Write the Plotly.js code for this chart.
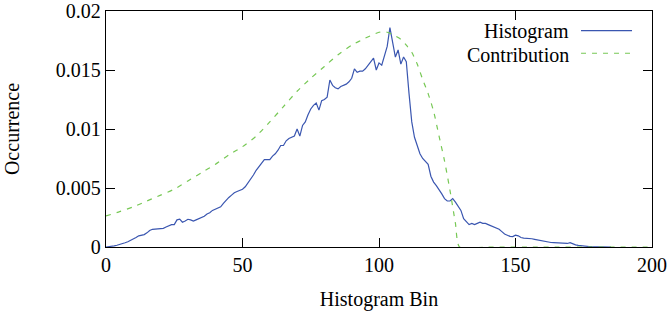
<!DOCTYPE html>
<html>
<head>
<meta charset="utf-8">
<script src="https://cdn.plot.ly/plotly-3.0.1.min.js"></script>
<style>html,body{margin:0;padding:0;background:#fff;}#chart{width:670px;height:322px;}</style>
</head>
<body>
<div id="chart"></div>
<script>
// Histogram bins 0..185
const histBins = [];
for (let i = 0; i <= 185; i++) histBins.push(i);
const histValues = [
  0, 0.00002, 0.00005, 0.0001, 0.00015, 0.0002, 0.00028, 0.00036, 0.00045, 0.00055,
  0.0007, 0.0008, 0.00095, 0.001, 0.00105, 0.0012, 0.0014, 0.0015, 0.00152, 0.0015,
  0.00155, 0.00158, 0.0017, 0.0018, 0.0019, 0.0019, 0.0023, 0.00236, 0.0021, 0.0022,
  0.00235, 0.0023, 0.0022, 0.0023, 0.0024, 0.0025, 0.0026, 0.0028, 0.0029, 0.0031,
  0.0032, 0.0033, 0.0034, 0.0037, 0.004, 0.0042, 0.0044, 0.0046, 0.0047, 0.0048,
  0.0049, 0.0051, 0.0054, 0.0057, 0.0061, 0.0065, 0.0068, 0.0071, 0.0074, 0.0074,
  0.0074, 0.0077, 0.0079, 0.0082, 0.0086, 0.0086, 0.009, 0.0092, 0.0093, 0.0094,
  0.0100, 0.0094, 0.0103, 0.0106, 0.0112, 0.0117, 0.0120, 0.0122, 0.0116, 0.0124,
  0.0125, 0.0127, 0.01415, 0.0137, 0.0135, 0.0134, 0.0136, 0.0137, 0.0138, 0.0140,
  0.0143, 0.0151, 0.0148, 0.0149, 0.0149, 0.0151, 0.0154, 0.0157, 0.0160, 0.0150,
  0.0156, 0.0154, 0.0163, 0.0170, 0.0186, 0.0174, 0.0161, 0.0167, 0.0155, 0.0161,
  0.0157, 0.0130, 0.0106, 0.0093, 0.0085, 0.0079, 0.0075, 0.0072, 0.0070, 0.0060,
  0.0055, 0.0052, 0.0049, 0.0045, 0.0041, 0.0039, 0.0039, 0.0041, 0.0038, 0.0034,
  0.0031, 0.0024, 0.0021, 0.0019, 0.0020, 0.0019, 0.0020, 0.0021, 0.0020, 0.0020,
  0.0019, 0.0018, 0.0017, 0.0016, 0.0015, 0.0013, 0.0011, 0.0010, 0.0009, 0.00088,
  0.0010, 0.00095, 0.0008, 0.00075, 0.00074, 0.00074, 0.0007, 0.00065, 0.0006, 0.00055,
  0.0005, 0.00043, 0.0004, 0.00038, 0.00037, 0.00036, 0.00034, 0.00032, 0.0003, 0.0003,
  0.00036, 0.00025, 0.00018, 0.00014, 0.0001, 0.00006, 0.00005, 0.00004, 0.00003, 0.00002,
  0.00001, 0, 0, 0, 0, 0
];

const contribBins = [0, 5, 10, 15, 20, 25, 30, 35, 40, 45, 50, 55, 60, 65, 70, 75, 80, 85, 90, 95,
  100, 103, 105, 108, 110, 112, 114, 116, 118, 120, 122, 124, 126, 128, 129.5, 140, 160, 180, 200];
const contribValues = [0.00263, 0.0030, 0.0034, 0.0039, 0.0044, 0.0049, 0.0056, 0.0063, 0.0070, 0.0078,
  0.0085, 0.0094, 0.0106, 0.0119, 0.0132, 0.0143, 0.0153, 0.0163, 0.0171, 0.0177,
  0.0182, 0.0182, 0.0180, 0.0176, 0.0171, 0.0165, 0.0155, 0.0142, 0.0130, 0.0115,
  0.0094, 0.0073, 0.0048, 0.0020, 0, 0, 0, 0, 0];

const xTicks = [0, 50, 100, 150, 200];
const yTicks = [0, 0.005, 0.01, 0.015, 0.02];
const yTickLabels = ['0', '0.005', '0.01', '0.015', '0.02'];
const seriesNames = ['Histogram', 'Contribution'];
const seriesColors = ['#3a56b0', '#77c855'];

const FONT = 'Liberation Serif';

const traces = [
  {x: histBins, y: histValues, type: 'scatter', mode: 'lines', name: seriesNames[0],
   line: {color: seriesColors[0], width: 1.2}, showlegend: false},
  {x: contribBins, y: contribValues, type: 'scatter', mode: 'lines', name: seriesNames[1],
   line: {color: seriesColors[1], width: 1.2, dash: '5px,6px', shape: 'spline', smoothing: 0.6}, showlegend: false}
];

const legY = [0.915, 0.815];
const legLineY = [0.917, 0.821];

const layout = {
  width: 670, height: 322,
  margin: {l: 106, r: 18, t: 11, b: 75},
  paper_bgcolor: '#fff', plot_bgcolor: '#fff',
  font: {family: FONT, size: 20, color: '#000'},
  showlegend: false,
  xaxis: {
    range: [0, 200], tickvals: xTicks, ticktext: xTicks.map(String),
    ticks: 'inside', ticklen: 9, tickcolor: '#000', tickwidth: 1,
    showline: true, linecolor: '#000', linewidth: 1.3, mirror: 'ticks',
    showgrid: false, zeroline: false,
    tickfont: {family: FONT, size: 20},
    title: {text: 'Histogram Bin', font: {family: FONT, size: 20}, standoff: 16}
  },
  yaxis: {
    range: [0, 0.02], tickvals: yTicks, ticktext: yTickLabels,
    ticks: 'inside', ticklen: 9, tickcolor: '#000', tickwidth: 1,
    showline: true, linecolor: '#000', linewidth: 1.3, mirror: 'ticks',
    showgrid: false, zeroline: false,
    tickfont: {family: FONT, size: 20},
    title: {text: 'Occurrence', font: {family: FONT, size: 20}, standoff: 30}
  },
  annotations: seriesNames.map((n, i) => ({
    xref: 'paper', yref: 'paper', x: 0.8516, y: legY[i], xanchor: 'right', yanchor: 'middle',
    text: n, showarrow: false, font: {family: FONT, size: 20, color: '#000'}
  })),
  shapes: seriesNames.map((n, i) => ({
    type: 'line', xref: 'paper', yref: 'paper', x0: 0.87, x1: 0.9634, y0: legLineY[i], y1: legLineY[i],
    line: {color: seriesColors[i], width: 1.2, dash: i === 1 ? '5px,6px' : 'solid'}
  }))
};

Plotly.newPlot('chart', traces, layout, {displayModeBar: false, staticPlot: true});
</script>
</body>
</html>
